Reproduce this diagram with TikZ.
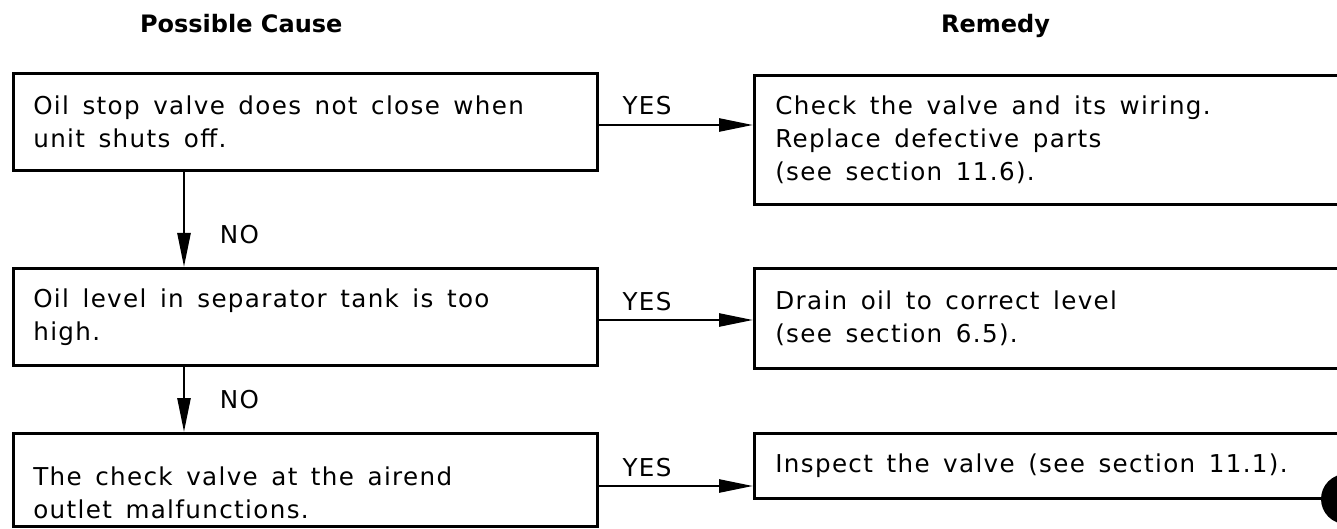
\documentclass[tikz,border=0pt]{standalone}
\usepackage{fontspec}
\setmainfont{DejaVu Sans}[LetterSpace=5.5]
\newfontfamily\headfont{DejaVu Sans}
\usetikzlibrary{arrows.meta}
\newcommand{\bodysize}{\fontsize{12.3pt}{16.5pt}\selectfont\spaceskip=0.55em\relax}

\begin{document}
\begin{tikzpicture}[
  x=0.5pt, y=-0.5pt,
  >={Triangle[length=17pt,width=6.5pt]},
  box/.style={draw, line width=1.3pt, anchor=north west, inner xsep=10pt,
    inner ysep=0pt, align=flush left, font=\bodysize},
  cause/.style={box, minimum width=292pt, text width=272pt, minimum height=48.5pt},
  remedy/.style={box, minimum width=300pt, text width=279pt},
  head/.style={anchor=base west, font=\headfont\fontsize{12pt}{14pt}\bfseries\selectfont},
  flow/.style={->, line width=1.3pt},
  yeslbl/.style={pos=0, anchor=base west, xshift=8pt, yshift=5pt, font=\bodysize},
  nolbl/.style={anchor=base west, xshift=14pt, yshift=12pt, font=\bodysize}
]
\useasboundingbox (0,0) rectangle (1337,529);
\clip (0,0) rectangle (1337,529);

\node[head] (hcause) at (133,33) {Possible Cause};
\node[head] (hremedy) at (934,33) {Remedy};

\node[cause] (c1) at (12,72) {Oil stop valve does not close when\\unit shuts off.};
\node[cause] (c2) at (12,267) {Oil level in separator tank is too\\high.};
\node[cause, minimum height=46.5pt, text depth=4pt] (c3) at (12,432) {The check valve at the airend\\outlet malfunctions.};

\node[remedy, minimum height=64.5pt] (r1) at (753,74) {Check the valve and its wiring.\\Replace defective parts\\(see section 11.6).};
\node[remedy, minimum height=50pt] (r2) at (753,267) {Drain oil to correct level\\(see section 6.5).};
\node[remedy, minimum height=32.5pt] (r3) at (753,432) {Inspect the valve (see section 11.1).};

\draw[flow] ([yshift=-26.5pt]c1.north east) coordinate (yes1) -- (yes1 -| r1.west) node[yeslbl] {YES};
\draw[flow] ([yshift=-26.5pt]c2.north east) coordinate (yes2) -- (yes2 -| r2.west) node[yeslbl] {YES};
\draw[flow] ([yshift=-27pt]c3.north east) coordinate (yes3) -- (yes3 -| r3.west) node[yeslbl] {YES};

\draw[flow] ([xshift=86pt]c1.south west) -- ([xshift=86pt]c2.north west) node[nolbl] {NO};
\draw[flow] ([xshift=86pt]c2.south west) -- ([xshift=86pt]c3.north west) node[nolbl] {NO};

% punch hole
\fill (1346,499) circle (12.5pt);
\end{tikzpicture}
\end{document}
